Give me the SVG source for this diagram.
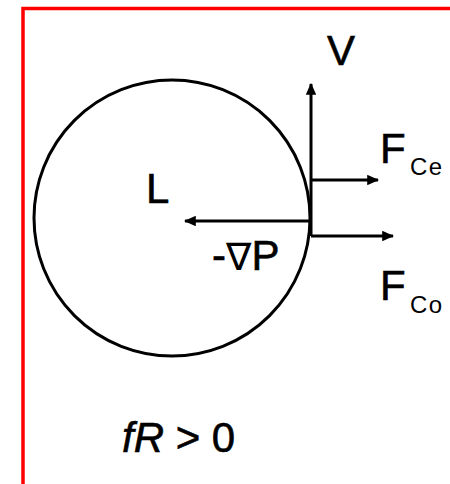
<svg xmlns="http://www.w3.org/2000/svg" width="450" height="484" viewBox="0 0 450 484">
<style>
.lbl{font-family:"Liberation Sans",Arial,sans-serif;font-size:42px;fill:#000;stroke:#000;stroke-width:0.6}
.sub{font-family:"Liberation Sans",Arial,sans-serif;font-size:24px;fill:#000;letter-spacing:1.5px}
.ln{stroke:#000;stroke-width:3;fill:none}
</style>
<defs>
<marker id="ah" viewBox="0 0 10 10" refX="9" refY="5" markerWidth="4" markerHeight="3.5" orient="auto" markerUnits="strokeWidth" preserveAspectRatio="none">
<path d="M0,0 L10,5 L0,10 z" fill="#000"/>
</marker>
</defs>
<rect width="450" height="484" fill="#fff"/>
<g id="frame"><path d="M23,490 V8.5 H455" fill="none" stroke="#f00" stroke-width="3.5"/></g>
<g id="cylinder"><circle cx="172" cy="218" r="138" class="ln"/></g>
<g id="connectors">
<line x1="311" y1="236" x2="311" y2="84" class="ln" marker-end="url(#ah)"/>
<line x1="311" y1="180" x2="378" y2="180" class="ln" marker-end="url(#ah)"/>
<line x1="311" y1="236" x2="393" y2="236" class="ln" marker-end="url(#ah)"/>
<line x1="311" y1="221" x2="185" y2="221" class="ln" marker-end="url(#ah)"/>
</g>
<g id="label-V"><text class="lbl" x="327" y="65">V</text></g>
<g id="label-L"><text class="lbl" x="146" y="203">L</text></g>
<g id="label-FCe"><text class="lbl" x="380" y="163">F</text><text class="sub" x="410" y="175">Ce</text></g>
<g id="label-FCo"><text class="lbl" x="380" y="300">F</text><text class="sub" x="410" y="313">Co</text></g>
<g id="label-gradP"><text class="lbl" x="212" y="270">-<tspan font-family="DejaVu Sans" font-size="38" stroke-width="0">∇</tspan>P</text></g>
<g id="label-fR"><text class="lbl" x="122" y="452"><tspan font-style="italic">fR</tspan> &gt; 0</text></g>
</svg>
